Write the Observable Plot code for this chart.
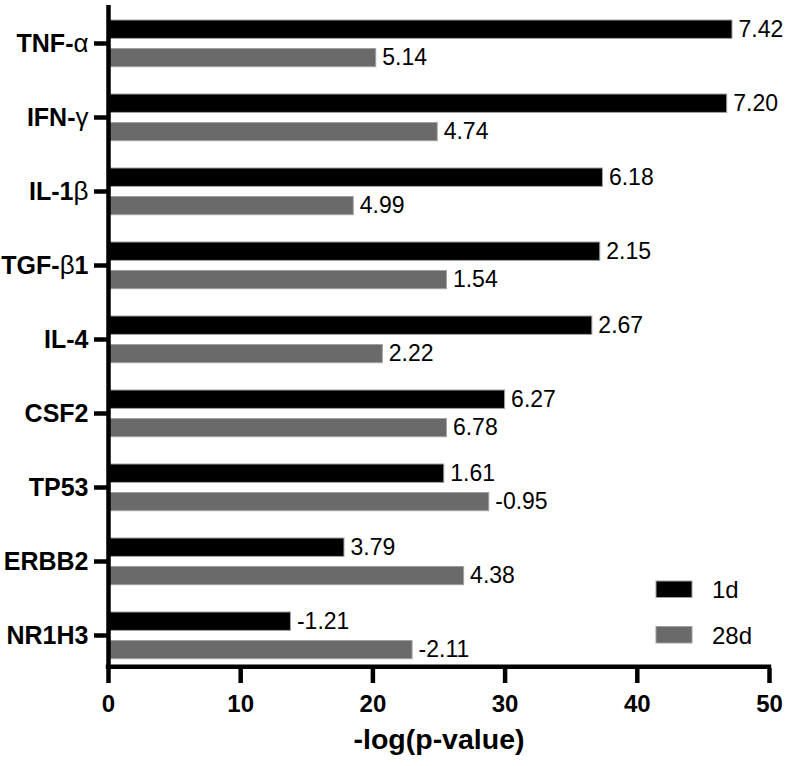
<!DOCTYPE html>
<html><head><meta charset="utf-8">
<script src="https://cdn.jsdelivr.net/npm/d3@7"></script>
<script src="https://cdn.jsdelivr.net/npm/@observablehq/plot@0.6"></script>
<style>body{margin:0;background:#fff}</style>
</head><body><div id="chart"></div>
<script>
const categories = ["TNF-α","IFN-γ","IL-1β","TGF-β1","IL-4","CSF2","TP53","ERBB2","NR1H3"];
const series = ["1d","28d"];
const logP1d  = [47.2, 46.8, 37.4, 37.2, 36.6, 30.0, 25.4, 17.85, 13.8];
const logP28d = [20.25, 24.9, 18.55, 25.6, 20.75, 25.6, 28.8, 26.9, 23.0];
const label1d  = [7.42, 7.20, 6.18, 2.15, 2.67, 6.27, 1.61, 3.79, -1.21];
const label28d = [5.14, 4.74, 4.99, 1.54, 2.22, 6.78, -0.95, 4.38, -2.11];
const xTicks = [0, 10, 20, 30, 40, 50];
const xTitle = "-log(p-value)";
const colors = ["#000000", "#6a6a6a"];

const rows = categories.flatMap((c, i) => [
  {category: c, series: series[0], logP: logP1d[i], label: label1d[i]},
  {category: c, series: series[1], logP: logP28d[i], label: label28d[i]}
]);

const W = 789, H = 766, ML = 108, MR = 20, MT = 5, MB = 98;
const step = 74.3;
const yRange = [5.15, 5.15 + categories.length * step];
const spec = {
  "1d":  {insetTop: 14,   insetBottom: step - 32.7, dy: 23.35 - step / 2},
  "28d": {insetTop: 42.5, insetBottom: step - 61,   dy: 51.75 - step / 2}
};
const axisBottomY = H - MB;

const plot = Plot.plot({
  width: W, height: H,
  marginLeft: ML, marginRight: MR, marginTop: MT, marginBottom: MB,
  style: {fontFamily: "'Liberation Sans', Arial, sans-serif", background: "#fff", color: "#000"},
  x: {domain: [0, 50], ticks: xTicks},
  y: {domain: categories, range: yRange, padding: 0},
  color: {domain: series, range: colors},
  marks: [
    ...series.map(s => Plot.barX(rows.filter(r => r.series === s), {
      x: "logP", y: "category", fill: "series", stroke: "#a0a0a0", strokeWidth: 1,
      insetTop: spec[s].insetTop, insetBottom: spec[s].insetBottom
    })),
    ...series.map(s => Plot.text(rows.filter(r => r.series === s), {
      x: "logP", y: "category", text: d => d.label.toFixed(2),
      textAnchor: "start", dx: 6, dy: spec[s].dy, fontSize: 23, fill: "#000"
    })),
    Plot.ruleX([0], {strokeWidth: 4.5}),
    Plot.ruleY([categories[categories.length - 1]], {
      dy: axisBottomY - (yRange[0] + (categories.length - 0.5) * step),
      strokeWidth: 4.5, insetLeft: -2.2, insetRight: -2.2
    }),
    Plot.axisX({ticks: xTicks, tickSize: 15, tickPadding: 11, strokeWidth: 4.5, fontSize: 24, fontWeight: "bold", label: null}),
    Plot.axisY({tickSize: 14, tickPadding: 6, strokeWidth: 4.5, fontSize: 25, fontWeight: "bold", label: null}),
    Plot.text([xTitle], {frameAnchor: "bottom", dy: 80, fontSize: 28.5, fontWeight: "bold"})
  ]
});

// Greek letters in category labels: normal weight (as in the original)
d3.select(plot).selectAll('g[aria-label="y-axis tick label"] text').each(function() {
  const el = d3.select(this);
  const t = this.textContent;
  el.text(null);
  t.split(/([\u0370-\u03FF]+)/).filter(p => p.length).forEach(p => {
    const ts = el.append("tspan").text(p);
    if (/[\u0370-\u03FF]/.test(p)) ts.attr("font-weight", "normal").attr("font-size", 26);
  });
});

// Legend (inside plot area, bottom right)
const svg = d3.select(plot.tagName === "svg" ? plot : plot.querySelector("svg"));
const lg = svg.append("g").attr("font-family", "'Liberation Sans', Arial, sans-serif")
  .attr("text-anchor", "start");
series.forEach((s, i) => {
  const y0 = 581 + i * 45.5;
  lg.append("rect").attr("x", 656).attr("y", y0).attr("width", 36).attr("height", 16.5)
    .attr("fill", colors[i]).attr("stroke", "#a0a0a0").attr("stroke-width", 1);
  lg.append("text").attr("x", 712).attr("y", y0 + 17).attr("font-size", 24)
    .attr("text-anchor", "start").attr("fill", "#000").text(s);
});

document.getElementById("chart").appendChild(plot);
</script>
</body></html>
